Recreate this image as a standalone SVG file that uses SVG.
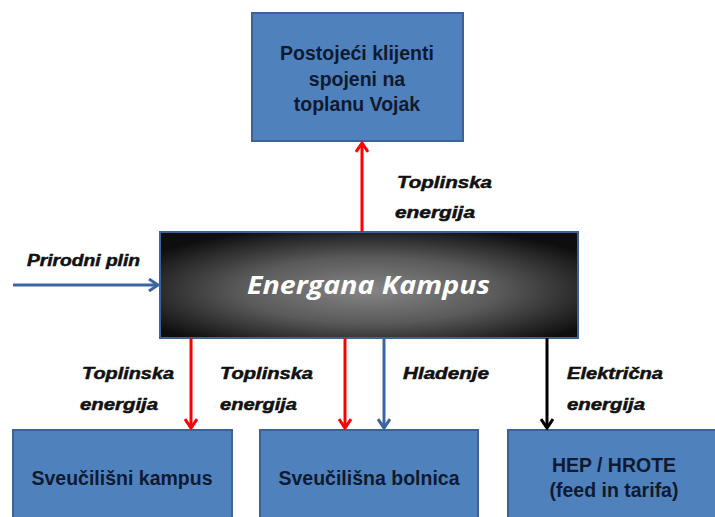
<svg xmlns="http://www.w3.org/2000/svg" width="715" height="517" viewBox="0 0 715 517">
<defs>
<radialGradient id="g" cx="0.5" cy="0.55" r="0.62">
<stop offset="0" stop-color="#858585"/>
<stop offset="0.5" stop-color="#5a5a5a"/>
<stop offset="1" stop-color="#0e0e0e"/>
</radialGradient>
<marker id="ar" viewBox="0 0 14 14" refX="11" refY="7" markerWidth="14" markerHeight="14" markerUnits="userSpaceOnUse" orient="auto"><path d="M2,1 L11,7 L2,13" fill="none" stroke="#ff0000" stroke-width="3"/></marker>
<marker id="ab" viewBox="0 0 14 14" refX="11" refY="7" markerWidth="14" markerHeight="14" markerUnits="userSpaceOnUse" orient="auto"><path d="M2,1 L11,7 L2,13" fill="none" stroke="#3b64a0" stroke-width="3"/></marker>
<marker id="ak" viewBox="0 0 14 14" refX="11" refY="7" markerWidth="14" markerHeight="14" markerUnits="userSpaceOnUse" orient="auto"><path d="M2,1 L11,7 L2,13" fill="none" stroke="#000" stroke-width="3"/></marker>
</defs>
<style>
.box{fill:#4f81bd;stroke:#3d6396;stroke-width:2}
.bt{font-family:"Liberation Sans",Arial,sans-serif;font-weight:bold;font-size:19.5px;fill:#0f1a30;text-anchor:middle}
.lb{font-family:"Liberation Sans",Arial,sans-serif;font-weight:bold;font-style:italic;font-size:16px;fill:#111;stroke:#111;stroke-width:0.5}
.red{stroke:#ff0000;stroke-width:3;fill:none;marker-end:url(#ar)}
.blue{stroke:#3b64a0;stroke-width:3;fill:none;marker-end:url(#ab)}
.blk{stroke:#000;stroke-width:3;fill:none;marker-end:url(#ak)}
</style>
<g id="top">
<rect class="box" x="252" y="13" width="211" height="128"/>
<text class="bt" x="357" y="60">Postojeći klijenti</text>
<text class="bt" x="357" y="86">spojeni na</text>
<text class="bt" x="357" y="111">toplanu Vojak</text>
</g>
<g id="main">
<rect x="160" y="232" width="418" height="106" fill="url(#g)" stroke="#3d6396" stroke-width="2"/>
<text x="247" y="294" textLength="243" lengthAdjust="spacingAndGlyphs" font-family="'Open Sans','Liberation Sans',sans-serif" font-weight="bold" font-style="italic" font-size="25" fill="#fff">Energana Kampus</text>
</g>
<g id="kampus">
<rect class="box" x="13" y="430" width="219" height="100"/>
<text class="bt" x="122" y="485">Sveučilišni kampus</text>
</g>
<g id="bolnica">
<rect class="box" x="260" y="430" width="218" height="100"/>
<text class="bt" x="369" y="485">Sveučilišna bolnica</text>
</g>
<g id="hep">
<rect class="box" x="508" y="430" width="220" height="100"/>
<text class="bt" x="614" y="472">HEP / HROTE</text>
<text class="bt" x="614" y="497">(feed in tarifa)</text>
</g>
<g id="connectors">
<line class="blue" x1="13" y1="285" x2="158" y2="285"/>
<line class="red" x1="362" y1="232" x2="362" y2="143"/>
<line class="red" x1="191" y1="338" x2="191" y2="428"/>
<line class="red" x1="345" y1="338" x2="345" y2="428"/>
<line class="blue" x1="384" y1="338" x2="384" y2="428"/>
<line class="blk" x1="547" y1="338" x2="547" y2="428"/>
</g>
<g id="labels">
<text class="lb" x="27" y="266" textLength="113" lengthAdjust="spacingAndGlyphs">Prirodni plin</text>
<text class="lb" x="397" y="188" textLength="95" lengthAdjust="spacingAndGlyphs">Toplinska</text>
<text class="lb" x="395" y="218" textLength="80" lengthAdjust="spacingAndGlyphs">energija</text>
<text class="lb" x="82" y="379" textLength="92" lengthAdjust="spacingAndGlyphs">Toplinska</text>
<text class="lb" x="80" y="410" textLength="78" lengthAdjust="spacingAndGlyphs">energija</text>
<text class="lb" x="220" y="379" textLength="93" lengthAdjust="spacingAndGlyphs">Toplinska</text>
<text class="lb" x="220" y="410" textLength="77" lengthAdjust="spacingAndGlyphs">energija</text>
<text class="lb" x="403" y="379" textLength="86" lengthAdjust="spacingAndGlyphs">Hladenje</text>
<text class="lb" x="567" y="379" textLength="96" lengthAdjust="spacingAndGlyphs">Električna</text>
<text class="lb" x="567" y="410" textLength="78" lengthAdjust="spacingAndGlyphs">energija</text>
</g>
</svg>
